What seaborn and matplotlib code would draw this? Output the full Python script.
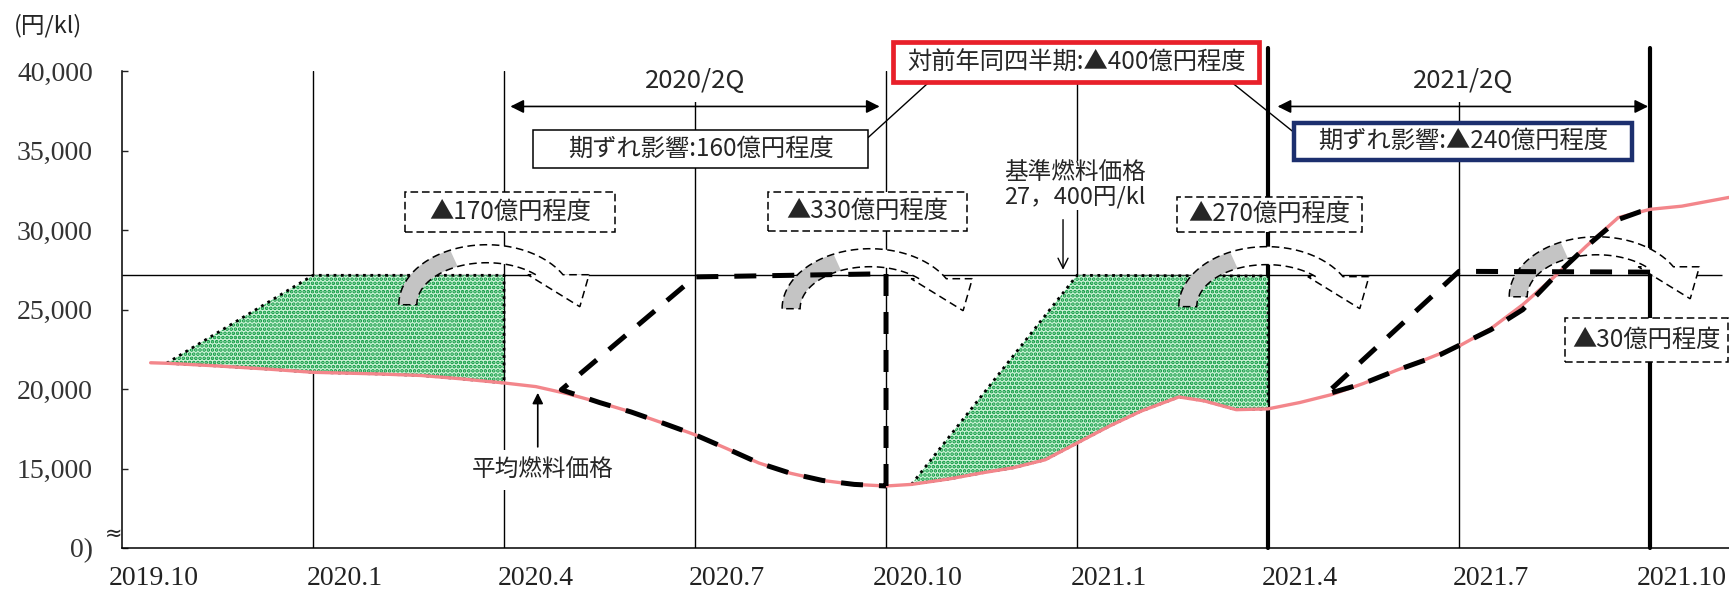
import numpy as np
import matplotlib.pyplot as plt
import matplotlib.patches as mpatches
import matplotlib.transforms as mtransforms
import seaborn as sns

sns.set_theme(style="white")
plt.rcParams["font.family"] = ["Noto Sans CJK JP", "DejaVu Sans"]
plt.rcParams["hatch.linewidth"] = 1.8

# ===========================
# データ (x = 2019.10 からの月数)
# ===========================
quarter_pos = [0, 3, 6, 9, 12, 15, 18, 21, 24]
quarter_labels = ["2019.10", "2020.1", "2020.4", "2020.7", "2020.10",
                  "2021.1", "2021.4", "2021.7", "2021.10"]

y_ticks = [10000, 15000, 20000, 25000, 30000, 35000, 40000]
y_labels = ["0)", "15,000", "20,000", "25,000", "30,000", "35,000", "40,000"]

base_price = 27150  # 基準燃料価格の線

# 平均燃料価格
avg_month = [0.45, 0.7, 1.5, 2.3, 3.0, 4.0, 4.7, 5.3, 6.0, 6.5, 7.0, 7.5, 8.0,
             8.5, 9.0, 9.5, 10.0, 10.5, 11.0, 11.5, 12.0, 12.4, 13.0, 13.5,
             14.0, 14.5, 15.0, 15.5, 16.0, 16.6, 17.0, 17.5, 18.0, 18.5, 19.0,
             19.5, 20.0, 20.5, 21.0, 21.5, 22.0, 22.5, 23.0, 23.5, 24.0, 24.5,
             25.24]
avg_price = [21650, 21620, 21450, 21250, 21050, 20950, 20850, 20650, 20380,
             20150, 19700, 19150, 18550, 17850, 17120, 16250, 15350, 14700,
             14250, 14000, 13900, 14000, 14350, 14720, 15050, 15550, 16600,
             17650, 18600, 19500, 19250, 18700, 18750, 19150, 19650, 20350,
             21150, 21900, 22700, 23800, 25300, 27070, 28990, 30780, 31300,
             31500, 32050]

# 期ずれ (2020/2Q, 2021/2Q) の破線
lag20_month = [12.0, 12.0, 9.0, 6.9, 7.5, 8.0, 8.5, 9.0, 9.5, 10.0, 10.5,
               11.0, 11.5, 12.0]
lag20_price = [13900, 27250, 27050, 19950, 19150, 18550, 17850, 17120, 16250,
               15350, 14700, 14250, 14000, 13900]
lag21_month = [24.0, 21.0, 18.9, 19.5, 20.0, 20.7, 21.5, 22.0, 22.5, 23.0,
               23.5, 23.85, 24.0]
lag21_price = [27350, 27400, 19650, 20350, 21150, 22150, 23730, 24990, 27070,
               28960, 30660, 31160, 31250]

# 網掛け部分の上辺
fill1_top_month = [0.7, 3.0, 6.0]
fill1_top_price = [21620, 27150, 27150]
fill2_top_month = [12.4, 15.0, 18.0]
fill2_top_price = [14000, 27150, 27100]

RED = "#f3868b"
GREEN = "#05963a"

# ===========================
# 図
# ===========================
fig = plt.figure(figsize=(17.29, 5.91), dpi=100)
ax = fig.add_axes([122 / 1729, 43 / 591, 1607 / 1729, 477 / 591])

for m in quarter_pos[1:]:
    if m in (18, 24):
        ax.axvline(m, ymin=0, ymax=1.048, color="black", lw=3.0, zorder=1.5,
                   clip_on=False)
    else:
        ax.axvline(m, color="black", lw=1.0, zorder=1)
ax.hlines(base_price, 0, 25.13, color="black", lw=1.0, zorder=1)

# 網掛け
avg_m = np.array(avg_month)
avg_p = np.array(avg_price)
for top_m, top_p in [(fill1_top_month, fill1_top_price),
                     (fill2_top_month, fill2_top_price)]:
    mask = (avg_m > top_m[0]) & (avg_m <= top_m[-1])
    xs = list(top_m) + list(avg_m[mask][::-1])
    ys = list(top_p) + list(avg_p[mask][::-1])
    ax.fill(xs, ys, facecolor="#cdf3d8", edgecolor=GREEN, hatch="....",
            lw=0, zorder=2)
    ax.plot(xs + [xs[0]], ys + [ys[0]], color="black", ls=":", lw=2.0,
            zorder=2.5)


# 繰り越しの曲線矢印
def carry_arrow(cx, cy):
    a_out, b_out, a_in, b_in, h = 88, 60, 70, 42, 30
    t_out = np.linspace(np.pi, np.arcsin(h / b_out), 50)
    t_in = np.linspace(np.arcsin(h / b_in), np.pi, 50)
    outer = np.column_stack([a_out * np.cos(t_out), b_out * np.sin(t_out)])
    inner = np.column_stack([a_in * np.cos(t_in), b_in * np.sin(t_in)])
    head = np.array([[outer[-1, 0] + 26, h], [93, -2], [inner[0, 0] - 8, h]])
    shape = np.vstack([outer, head, inner])
    g = np.linspace(np.pi, 2.0, 20)
    gray = np.vstack([
        np.column_stack([a_out * np.cos(g), b_out * np.sin(g)]),
        np.column_stack([a_in * np.cos(g[::-1]), b_in * np.sin(g[::-1])]),
    ])
    trans = mtransforms.ScaledTranslation(cx, cy, ax.transData)
    ax.add_patch(mpatches.Polygon(shape, closed=True, transform=trans,
                                  fc="white", ec="none", zorder=3,
                                  clip_on=False))
    ax.add_patch(mpatches.Polygon(gray, closed=True, transform=trans,
                                  fc="#c4c4c4", ec="none", zorder=3.1,
                                  clip_on=False))
    ax.add_patch(mpatches.Polygon(shape, closed=True, transform=trans,
                                  fill=False, ec="black", lw=1.1,
                                  ls=(0, (5, 3)), zorder=3.2, clip_on=False))


for cx, cy in [(5.73, 25300), (11.75, 25050), (17.98, 25180), (23.17, 25800)]:
    carry_arrow(cx, cy)

# 線
sns.lineplot(x=avg_month, y=avg_price, color=RED, lw=2.4, estimator=None,
             sort=False, ax=ax, zorder=4)
for mm, pp in [(lag20_month, lag20_price), (lag21_month, lag21_price)]:
    sns.lineplot(x=mm, y=pp, color="black", lw=3.6, estimator=None,
                 sort=False, ax=ax, zorder=4.5, linestyle=(0, (4.4, 3.2)),
                 dash_capstyle="butt")


# 注記の枠
def boxed(x0, y0, x1, y1, text, ec="black", lw=1.1, ls="-"):
    ax.add_patch(mpatches.Rectangle((x0, y0), x1 - x0, y1 - y0, fc="white",
                                    ec=ec, lw=lw, ls=ls, zorder=5,
                                    clip_on=False))
    ax.text((x0 + x1) / 2, (y0 + y1) / 2, text, ha="center", va="center",
            fontsize=17.5, zorder=6, clip_on=False)


dash_box = (0, (5, 2.5))
boxed(4.445, 29900, 7.743, 32420, "▲170億円程度", ls=dash_box)
boxed(10.15, 29960, 13.27, 32420, "▲330億円程度", ls=dash_box)
boxed(16.57, 29900, 19.48, 32100, "▲270億円程度", ls=dash_box)
boxed(22.66, 21710, 25.22, 24480, "▲30億円程度", ls=dash_box)
boxed(6.455, 33930, 11.717, 36320, "期ずれ影響:160億円程度")
boxed(18.41, 34430, 23.72, 36760, "期ずれ影響:▲240億円程度", ec="#1c2f6e",
      lw=3.2)
boxed(12.11, 39280, 17.86, 41800, "対前年同四半期:▲400億円程度",
      ec="#e8202a", lw=3.4)

# 引出し線
ax.plot([12.67, 11.72], [39280, 35820], color="black", lw=1.0, zorder=4.8,
        clip_on=False)
ax.plot([17.43, 18.41], [39280, 36130], color="black", lw=1.0, zorder=4.8,
        clip_on=False)

# 四半期の両矢印
for x0, x1, lab in [(6.1, 11.9, "2020/2Q"), (18.15, 23.97, "2021/2Q")]:
    ax.annotate("", xy=(x0, 37770), xytext=(x1, 37770),
                arrowprops=dict(arrowstyle="<|-|>", color="black", lw=1.2,
                                shrinkA=0, shrinkB=0, mutation_scale=20),
                zorder=5)
    ax.text((x0 + x1) / 2, 39400, lab, ha="center", va="center",
            fontsize=18.5, zorder=6,
            bbox=dict(fc="white", ec="none", pad=6))

ax.text(14.97, 32800, "基準燃料価格\n27，400円/kl", ha="center", va="center",
        fontsize=17, linespacing=1.05, zorder=6,
        bbox=dict(fc="white", ec="none", pad=1))
ax.annotate("", xy=(14.78, 27500), xytext=(14.78, 30650),
            arrowprops=dict(arrowstyle="->", color="black", lw=1.0,
                            shrinkA=0, shrinkB=0, mutation_scale=18))

ax.text(6.6, 14900, "平均燃料価格", ha="center", va="center", fontsize=17,
        zorder=6, bbox=dict(fc="white", ec="none", pad=6))
ax.annotate("", xy=(6.53, 19760), xytext=(6.53, 16360),
            arrowprops=dict(arrowstyle="-|>", color="black", lw=1.2,
                            shrinkA=0, shrinkB=0, mutation_scale=16))

# 軸
ax.set_xlim(0, 25.24)
ax.set_ylim(10000, 40000)
ax.set_xticks([m + 0.5 for m in quarter_pos])
ax.set_xticklabels(quarter_labels, fontfamily="Liberation Serif", fontsize=20)
ax.set_yticks(y_ticks)
ax.set_yticklabels(y_labels, fontfamily="Liberation Serif", fontsize=20)
ax.tick_params(axis="x", length=0, pad=13, colors="#222222")
ax.tick_params(axis="y", direction="in", length=4, width=1.0, pad=21,
               left=True, colors="#222222")
ax.tick_params(axis="y", labelcolor="#333333")
for side in ["top", "right"]:
    ax.spines[side].set_visible(False)
for side in ["left", "bottom"]:
    ax.spines[side].set_color("black")
    ax.spines[side].set_linewidth(1.1)
ax.set_xlabel("")
ax.set_ylabel("")

ax.text(-0.13, 10900, "≈", fontfamily="DejaVu Sans", fontsize=15,
        ha="center", va="center", clip_on=False)
fig.text(48 / 1729, 1 - 26 / 591, "(円/kl)", ha="center", va="center",
         fontsize=17)

fig.savefig("out.png", dpi=100)
